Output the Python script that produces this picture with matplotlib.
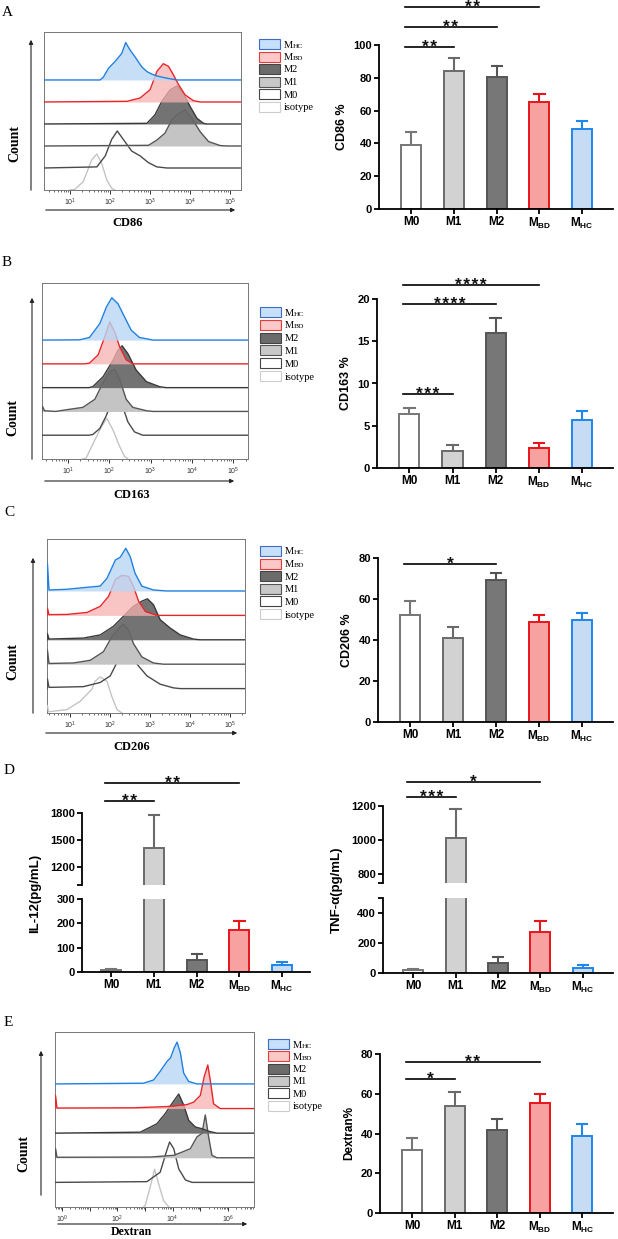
import numpy as np
import matplotlib
matplotlib.use('Agg')
import matplotlib.pyplot as plt
from matplotlib.patches import Rectangle, FancyArrowPatch

W, H = 618, 1239

plt.rcParams['font.family'] = ['Liberation Sans', 'DejaVu Sans']
plt.rcParams['mathtext.fontset'] = 'custom'
plt.rcParams['mathtext.rm'] = 'Liberation Sans'
plt.rcParams['mathtext.bf'] = 'Liberation Sans:bold'
plt.rcParams['mathtext.it'] = 'Liberation Sans:italic'

# ---------------- bar chart data ----------------
group_labels = ['M0', 'M1', 'M2', r'M$_\mathbf{BD}$', r'M$_\mathbf{HC}$']

cd86_mean = [39, 84, 80.5, 65, 48.5]
cd86_top = [47, 92, 87.5, 70, 53.5]
cd86_sig = [(0, 1, 99, '**'), (0, 2, 111, '**'), (0, 3, 123, '**')]

cd163_mean = [6.4, 2.0, 16.0, 2.4, 5.7]
cd163_top = [7.1, 2.7, 17.7, 2.9, 6.7]
cd163_sig = [(0, 1, 8.8, '***'), (0, 2, 19.4, '****'), (0, 3, 21.6, '****')]

cd206_mean = [52, 41, 69.5, 49, 50]
cd206_top = [59, 46.5, 72.5, 52, 53]
cd206_sig = [(0, 2, 77, '*')]

il12_mean = [8, 1410, 48, 172, 28]
il12_top = [12, 1780, 72, 208, 42]
il12_sig = [(0, 1, 1933, '**'), (0, 3, 2133, '**')]

tnf_mean = [18, 1015, 65, 275, 35]
tnf_top = [28, 1180, 110, 345, 52]
tnf_sig = [(0, 1, 1252, '***'), (0, 3, 1339, '*')]

dex_mean = [31.5, 54, 42, 55.5, 38.5]
dex_top = [37.5, 61, 47.5, 60, 45]
dex_sig = [(0, 1, 67.4, '*'), (0, 3, 76, '**')]

# ---------------- histogram data (log10 intensity, height in lane units) ----------------
cd86_iso = [(1.0, 0), (1.12, 0.03), (1.33, 0.38), (1.54, 1.36), (1.67, 1.64), (1.79, 1.21), (1.92, 0.45), (2.04, 0.08), (2.12, 0)]
cd86_m0 = [(1.67, 0.05), (1.88, 0.55), (2.04, 1.3), (2.18, 1.68), (2.33, 1.3), (2.54, 0.77), (2.75, 0.55), (2.96, 0.24), (3.17, 0.05), (3.42, 0)]
cd86_m1 = [(2.96, 0.03), (3.17, 0.27), (3.37, 0.58), (3.54, 1.18), (3.67, 1.41), (3.79, 1.56), (3.87, 1.64), (4.04, 1.26), (4.25, 0.65), (4.46, 0.2), (4.75, 0.02), (4.92, 0)]
cd86_m2 = [(2.92, 0.03), (3.12, 0.41), (3.29, 1.02), (3.5, 1.55), (3.68, 1.73), (3.83, 1.39), (4.0, 0.79), (4.17, 0.26), (4.33, 0.03), (4.42, 0)]
cd86_mbd = [(2.42, 0.03), (2.75, 0.18), (3.0, 0.56), (3.17, 1.39), (3.33, 1.74), (3.46, 1.62), (3.58, 1.24), (3.71, 0.79), (3.87, 0.33), (4.08, 0.06), (4.25, 0)]
cd86_mhc = [(1.75, 0), (1.83, 0.12), (1.96, 0.53), (2.12, 0.83), (2.29, 1.2), (2.39, 1.7), (2.5, 1.36), (2.62, 1.06), (2.79, 0.6), (2.92, 0.38), (3.04, 0.27), (3.17, 0.18), (3.42, 0.08), (3.67, 0)]

cd163_iso = [(1.35, 0), (1.44, 0.04), (1.65, 0.8), (1.81, 1.36), (1.94, 1.71), (2.09, 1.22), (2.25, 0.53), (2.37, 0.11), (2.45, 0)]
cd163_m0 = [(1.5, 0), (1.6, 0.03), (1.77, 0.28), (1.93, 0.83), (2.05, 1.39), (2.17, 1.78), (2.29, 1.39), (2.45, 0.56), (2.61, 0.14), (2.81, 0)]
cd163_m1 = [(0.38, 0.22), (0.43, 0.03), (0.7, 0), (0.96, 0.07), (1.36, 0.17), (1.65, 0.51), (1.85, 1.21), (2.02, 1.69), (2.13, 1.76), (2.25, 1.35), (2.41, 0.51), (2.57, 0.17), (2.9, 0.03), (3.06, 0)]
cd163_m2 = [(1.5, 0), (1.6, 0.04), (1.85, 0.46), (2.09, 1.15), (2.21, 1.57), (2.31, 1.76), (2.45, 1.43), (2.65, 0.74), (2.9, 0.25), (3.22, 0.04), (3.38, 0)]
cd163_mbd = [(1.4, 0), (1.52, 0.03), (1.73, 0.38), (1.89, 1.14), (2.01, 1.76), (2.13, 1.35), (2.25, 0.72), (2.41, 0.17), (2.57, 0)]
cd163_mhc = [(1.28, 0.01), (1.52, 0.11), (1.77, 0.69), (1.93, 1.39), (2.06, 1.78), (2.21, 1.53), (2.37, 0.97), (2.53, 0.42), (2.73, 0.11), (3.06, 0)]

cd206_iso = [(0.43, 0.3), (0.46, 0.05), (0.92, 0.14), (1.25, 0.48), (1.54, 0.97), (1.62, 1.3), (1.75, 1.48), (1.92, 1.3), (2.04, 0.68), (2.17, 0.14), (2.29, 0)]
cd206_m0 = [(0.43, 0.4), (0.47, 0.05), (1.33, 0.08), (1.75, 0.25), (2.0, 0.52), (2.21, 1.2), (2.33, 1.48), (2.43, 1.68), (2.54, 1.48), (2.67, 1.0), (2.92, 0.52), (3.25, 0.18), (3.58, 0.03), (3.75, 0)]
cd206_m1 = [(0.43, 0.58), (0.47, 0.03), (1.08, 0.05), (1.5, 0.16), (1.83, 0.51), (2.04, 1.12), (2.25, 1.53), (2.33, 1.64), (2.46, 1.4), (2.58, 0.85), (2.79, 0.3), (3.08, 0.05), (3.33, 0)]
cd206_m2 = [(0.43, 0.25), (0.47, 0.03), (1.33, 0.07), (1.75, 0.2), (2.08, 0.55), (2.33, 0.96), (2.58, 1.37), (2.79, 1.58), (2.93, 1.68), (3.08, 1.44), (3.25, 0.82), (3.5, 0.48), (3.75, 0.2), (4.08, 0.03), (4.25, 0)]
cd206_mbd = [(0.43, 0.3), (0.47, 0.03), (0.92, 0.04), (1.42, 0.12), (1.75, 0.37), (1.96, 0.78), (2.13, 1.47), (2.29, 1.64), (2.46, 1.6), (2.58, 1.19), (2.71, 0.58), (2.88, 0.16), (3.17, 0)]
cd206_mhc = [(0.43, 1.14), (0.47, 0.04), (0.92, 0.07), (1.42, 0.15), (1.75, 0.2), (1.92, 0.52), (2.13, 1.27), (2.25, 1.38), (2.39, 1.75), (2.5, 1.41), (2.62, 0.73), (2.79, 0.2), (3.08, 0.04), (3.42, 0)]

dex_iso = [(2.95, 0), (3.01, 0.07), (3.19, 0.82), (3.35, 1.53), (3.49, 0.96), (3.67, 0.27), (3.86, 0)]
dex_m0 = [(3.07, 0.03), (3.55, 0.41), (3.77, 1.23), (3.89, 1.64), (4.04, 1.37), (4.22, 0.55), (4.46, 0.1), (4.7, 0)]
dex_m1 = [(-0.23, 0.37), (-0.18, 0.02), (3.19, 0.03), (4.04, 0.1), (4.34, 0.23), (4.64, 0.37), (4.88, 0.85), (5.06, 0.99), (5.18, 1.74), (5.3, 0.85), (5.42, 0.1), (5.6, 0)]
dex_m2 = [(2.83, 0.04), (3.43, 0.38), (3.73, 0.79), (3.98, 1.21), (4.22, 1.59), (4.4, 1.14), (4.58, 0.52), (4.82, 0.25), (5.06, 0.18), (5.3, 0.08), (5.6, 0)]
dex_mbd = [(-0.23, 0.53), (-0.18, 0.02), (2.59, 0.03), (3.8, 0.08), (4.52, 0.16), (4.76, 0.26), (5.0, 0.53), (5.14, 1.29), (5.27, 1.77), (5.36, 1.15), (5.48, 0.19), (5.72, 0)]
dex_mhc = [(2.95, 0.03), (3.31, 0.16), (3.55, 0.51), (3.8, 0.92), (3.92, 1.05), (4.06, 1.47), (4.16, 1.7), (4.28, 1.26), (4.4, 0.44), (4.58, 0.1), (4.88, 0)]

# lane styles: isotype, M0, M1, M2, MBD, MHC (bottom to top)
lane_line = ['#c4c4c4', '#4a4a4a', '#555555', '#3a3a3a', '#e8262a', '#2180e0']
lane_fill = [None, None, '#c4c4c4', '#676767', '#f6b0b0', '#b8d7f5']
lane_alpha = [1, 1, 1, 0.92, 0.75, 0.8]

legend_items = [('M', 'HC', '#c5e0f8', '#3d6cc0'), ('M', 'BD', '#fbc8c8', '#e63b3b'),
                ('M2', '', '#6b6b6b', '#444444'), ('M1', '', '#c8c8c8', '#555555'),
                ('M0', '', 'white', '#444444'), ('isotype', '', 'white', '#cccccc')]

bar_fc = ['white', '#d2d2d2', '#777777', '#f7a1a1', '#c6dcf5']
bar_ec = ['#767676', '#6a6a6a', '#555555', '#e8151b', '#1f86ea']

fig = plt.figure(figsize=(W / 100, H / 100), dpi=100)


def fx(x):
    return x / W


def fy(y):
    return 1 - y / H


def px_axes(l, t, r, b):
    return fig.add_axes([l / W, 1 - b / H, (r - l) / W, (b - t) / H])


def fig_arrow(x0, y0, x1, y1):
    fig.add_artist(FancyArrowPatch((fx(x0), fy(y0)), (fx(x1), fy(y1)), transform=fig.transFigure,
                                   arrowstyle='-|>', mutation_scale=6, lw=0.8, color='#222222'))


def draw_hist(ax, lanes, xlim, ytop, labeled):
    ax.set_xlim(*xlim)
    ax.set_ylim(0, ytop)
    for i, pts in enumerate(lanes):
        xs = [p[0] for p in pts]
        hs = [p[1] for p in pts]
        if i > 0:
            xs = [xlim[0]] + xs + [xlim[1]]
            hs = [0] + hs + [0]
        xs = np.array(xs)
        ys = i + np.array(hs)
        if lane_fill[i]:
            ax.fill_between(xs, i, ys, color=lane_fill[i], alpha=lane_alpha[i], lw=0, zorder=2 + 2 * i)
        ax.plot(xs, ys, color=lane_line[i], lw=1.0, zorder=3 + 2 * i)
    majors = list(range(int(np.ceil(xlim[0])), int(np.floor(xlim[1])) + 1))
    minors = [d + np.log10(k) for d in range(int(np.floor(xlim[0])), int(np.ceil(xlim[1])))
              for k in range(2, 10) if xlim[0] < d + np.log10(k) < xlim[1]]
    ax.set_xticks(majors)
    ax.set_xticklabels([r'$10^{%d}$' % d if d in labeled else '' for d in majors])
    ax.set_xticks(minors, minor=True)
    ax.tick_params(axis='x', which='major', length=3, width=0.7, labelsize=5, pad=2, colors='#333333')
    ax.tick_params(axis='x', which='minor', length=1.6, width=0.5, colors='#333333')
    ax.set_yticks([])
    for s in ax.spines.values():
        s.set_color('#777777')
        s.set_linewidth(0.7)


def draw_legend(x, y0, dy):
    for k, (name, sub, fc, ec) in enumerate(legend_items):
        y = y0 + k * dy
        fig.add_artist(Rectangle((fx(x), fy(y + 5)), 21 / W, 10 / H, transform=fig.transFigure,
                                 fc=fc, ec=ec, lw=0.8))
        fig.text(fx(x + 25), fy(y + 3.5), name, family='Liberation Serif', fontsize=7.5, va='baseline')
        if sub:
            fig.text(fx(x + 25 + 8.8), fy(y + 3.5), sub, family='Liberation Serif', fontsize=5.3, va='baseline')


def serif_text(x, y, s, size, bold=False, rot=0):
    fig.text(fx(x), fy(y), s, family='Liberation Serif', fontsize=size, fontweight='bold' if bold else 'normal',
             rotation=rot, ha='center', va='center')


def draw_bars(ax, means, tops, xlim):
    for i in range(5):
        ax.bar(i, means[i], width=0.47, color=bar_fc[i], edgecolor=bar_ec[i], linewidth=1.4, zorder=2)
        ax.plot([i, i], [means[i], tops[i]], color=bar_ec[i], lw=1.5, zorder=1)
        ax.plot([i - 0.12, i + 0.12], [tops[i], tops[i]], color=bar_ec[i], lw=1.5, zorder=1)
    ax.set_xlim(*xlim)
    for s in ['top', 'right']:
        ax.spines[s].set_visible(False)
    for s in ['left', 'bottom']:
        ax.spines[s].set_linewidth(1.3)
    ax.tick_params(axis='both', length=3.5, width=1.3, pad=1.5)
    ax.tick_params(axis='y', labelsize=8)
    for lab in ax.get_yticklabels():
        lab.set_fontweight('bold')
    ax.set_xticks(range(5))
    ax.set_xticklabels(group_labels, fontweight='bold', fontsize=8.5)


def draw_sig(ax, sigs):
    for i, j, y, s in sigs:
        ax.plot([i - 0.15, j], [y, y], color='black', lw=1.2, clip_on=False)
        ax.annotate('\u200a'.join(s), xy=((i - 0.15 + j) / 2, y), xytext=(0, -3.6), textcoords='offset points',
                    ha='center', va='baseline', fontsize=12.5, fontweight='bold', color='#111111',
                    annotation_clip=False)


bar_xlim = (-0.75, 4.72)

# ---------------- Panel A ----------------
ax = px_axes(44, 32, 241, 190)
draw_hist(ax, [cd86_iso, cd86_m0, cd86_m1, cd86_m2, cd86_mbd, cd86_mhc], (0.35, 5.27), 7.18, [1, 2, 3, 4, 5])
draw_legend(259, 44, 12.5)
fig_arrow(31, 193, 31, 37)
fig_arrow(43, 210, 238, 210)
serif_text(7, 12, 'A', 11)
serif_text(15, 143, 'Count', 10, True, 90)
serif_text(128, 223, 'CD86', 9, True)

ax = px_axes(379, 45, 613, 209)
ax.set_ylim(0, 100)
ax.set_yticks([0, 20, 40, 60, 80, 100])
draw_bars(ax, cd86_mean, cd86_top, bar_xlim)
draw_sig(ax, cd86_sig)
ax.set_ylabel('CD86 %', fontsize=9, fontweight='bold', labelpad=4)

# ---------------- Panel B ----------------
ax = px_axes(42, 283, 248, 459)
draw_hist(ax, [cd163_iso, cd163_m0, cd163_m1, cd163_m2, cd163_mbd, cd163_mhc], (0.37, 5.36), 7.4, [1, 2, 3, 4, 5])
draw_legend(260, 312, 12.8)
fig_arrow(32, 462, 32, 295)
fig_arrow(42, 481, 237, 481)
serif_text(7, 263, 'B', 11)
serif_text(13, 417, 'Count', 10, True, 90)
serif_text(132, 495, 'CD163', 9, True)

ax = px_axes(377, 299, 613, 468)
ax.set_ylim(0, 20)
ax.set_yticks([0, 5, 10, 15, 20])
draw_bars(ax, cd163_mean, cd163_top, bar_xlim)
draw_sig(ax, cd163_sig)
ax.set_ylabel('CD163 %', fontsize=9, fontweight='bold', labelpad=4)

# ---------------- Panel C ----------------
ax = px_axes(47, 539, 245, 713)
draw_hist(ax, [cd206_iso, cd206_m0, cd206_m1, cd206_m2, cd206_mbd, cd206_mhc], (0.42, 5.37), 7.13, [1, 2, 3, 4, 5])
draw_legend(260, 551, 12.6)
fig_arrow(33, 716, 33, 555)
fig_arrow(43, 733, 240, 733)
serif_text(9, 513, 'C', 11)
serif_text(13, 662, 'Count', 10, True, 90)
serif_text(132, 747, 'CD206', 9, True)

ax = px_axes(378, 558, 613, 722)
ax.set_ylim(0, 80)
ax.set_yticks([0, 20, 40, 60, 80])
draw_bars(ax, cd206_mean, cd206_top, bar_xlim)
draw_sig(ax, cd206_sig)
ax.set_ylabel('CD206 %', fontsize=9, fontweight='bold', labelpad=4)

# ---------------- Panel D (broken axes) ----------------
serif_text(9, 770, 'D', 11)


def draw_broken(lo_box, hi_box, means, tops, xlim, lo_lim, lo_ticks, lo_labels, hi_lim, hi_ticks, hi_labels, sigs):
    ax_lo = px_axes(*lo_box)
    ax_hi = px_axes(*hi_box)
    ax_lo.set_ylim(*lo_lim)
    ax_lo.set_yticks(lo_ticks)
    ax_lo.set_yticklabels(lo_labels)
    draw_bars(ax_lo, means, tops, xlim)
    ax_hi.set_ylim(*hi_lim)
    ax_hi.set_yticks(hi_ticks)
    ax_hi.set_yticklabels(hi_labels)
    draw_bars(ax_hi, means, tops, xlim)
    ax_hi.spines['bottom'].set_visible(False)
    ax_hi.tick_params(axis='x', length=0, labelbottom=False)
    draw_sig(ax_hi, sigs)
    return ax_lo, ax_hi


draw_broken((82, 899, 310, 972), (82, 813, 310, 885), il12_mean, il12_top, (-0.68, 4.65),
            (0, 300), [0, 100, 200, 300], ['0', '100', '200', '300'],
            (1000, 1800), [1000, 1200, 1500, 1800], ['', '1200', '1500', '1800'], il12_sig)
fig.text(fx(35), fy(893), 'IL-12(pg/mL)', rotation=90, ha='center', va='center', fontsize=9.5, fontweight='bold')

draw_broken((383, 898, 613, 973), (383, 806, 613, 883), tnf_mean, tnf_top, (-0.71, 4.71),
            (0, 500), [0, 200, 400, 500], ['0', '200', '400', ''],
            (750, 1200), [750, 800, 1000, 1200], ['', '800', '1000', '1200'], tnf_sig)
fig.text(fx(337), fy(890), 'TNF-\u03b1(pg/mL)', rotation=90, ha='center', va='center', fontsize=9.5, fontweight='bold')

# ---------------- Panel E ----------------
ax = px_axes(55, 1032, 254, 1207)
draw_hist(ax, [dex_iso, dex_m0, dex_m1, dex_m2, dex_mbd, dex_mhc], (-0.25, 6.94), 7.11, [0, 2, 4, 6])
draw_legend(268, 1044, 12.3)
fig_arrow(41, 1198, 41, 1048)
fig_arrow(55, 1224, 250, 1224)
serif_text(8, 1022, 'E', 11)
serif_text(24, 1153, 'Count', 10, True, 90)
serif_text(131, 1232, 'Dextran', 8.5, True)

ax = px_axes(380, 1054, 613, 1213)
ax.set_ylim(0, 80)
ax.set_yticks([0, 20, 40, 60, 80])
draw_bars(ax, dex_mean, dex_top, bar_xlim)
draw_sig(ax, dex_sig)
ax.set_ylabel('Dextran%', fontsize=8.5, fontweight='bold', labelpad=4)

fig.savefig('out.png', dpi=100)
